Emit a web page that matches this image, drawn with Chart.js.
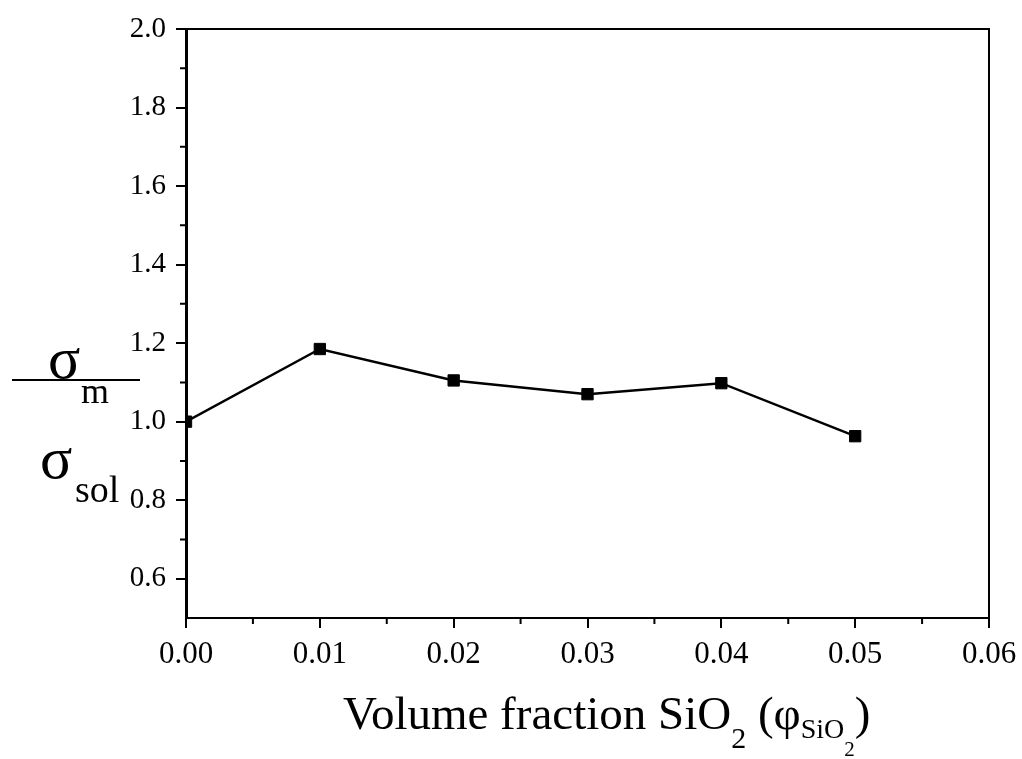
<!DOCTYPE html>
<html>
<head>
<meta charset="utf-8">
<script src="https://cdn.jsdelivr.net/npm/chart.js@4"></script>
<style>
  body { margin: 0; background: #fff; }
  #wrap { width: 1022px; height: 759px; }
</style>
</head>
<body>
<div id="wrap"><canvas id="chart" width="1022" height="759"></canvas></div>
<script>
// data
const volumeFractions = [0.00, 0.01, 0.02, 0.03, 0.04, 0.05];
const sigmaRatio = [1.000, 1.185, 1.105, 1.070, 1.098, 0.963];

const xTicks = [0.00, 0.01, 0.02, 0.03, 0.04, 0.05, 0.06];
const yTicks = [0.6, 0.8, 1.0, 1.2, 1.4, 1.6, 1.8, 2.0];
const xMinorTicks = [0.005, 0.015, 0.025, 0.035, 0.045, 0.055];
const yMinorTicks = [0.7, 0.9, 1.1, 1.3, 1.5, 1.7, 1.9];

const SERIF = '"Liberation Serif", "Times New Roman", serif';

// draws a run of text pieces one after another: [text, size, baselineShift]
function drawRuns(ctx, x, y, runs) {
    runs.forEach(r => {
        ctx.font = r[1] + 'px ' + SERIF;
        ctx.fillText(r[0], x, y + (r[2] || 0));
        x += ctx.measureText(r[0]).width + (r[3] || 0);
    });
}

// frame, minor ticks and the two axis titles
const decorations = {
    id: 'decorations',
    afterDraw(chart) {
        const ctx = chart.ctx;
        const area = chart.chartArea;
        const xs = chart.scales.x, ys = chart.scales.y;
        ctx.save();
        ctx.strokeStyle = '#000';
        ctx.fillStyle = '#000';

        // top and right edges of the box
        ctx.lineWidth = 2;
        ctx.beginPath();
        ctx.moveTo(area.left, area.top);
        ctx.lineTo(area.right, area.top);
        ctx.lineTo(area.right, area.bottom);
        ctx.stroke();

        // minor ticks
        ctx.beginPath();
        xMinorTicks.forEach(v => {
            const px = xs.getPixelForValue(v);
            ctx.moveTo(px, area.bottom);
            ctx.lineTo(px, area.bottom + 6);
        });
        yMinorTicks.forEach(v => {
            const py = ys.getPixelForValue(v);
            ctx.moveTo(area.left, py);
            ctx.lineTo(area.left - 6, py);
        });
        ctx.stroke();

        // y title: sigma_m over sigma_sol
        ctx.textBaseline = 'alphabetic';
        ctx.textAlign = 'left';
        ctx.beginPath();
        ctx.moveTo(12, 380);
        ctx.lineTo(140, 380);
        ctx.stroke();
        ctx.font = '60px ' + SERIF;
        ctx.fillText('\u03C3', 48, 378);
        ctx.font = '36px ' + SERIF;
        ctx.fillText('m', 81, 403);
        ctx.font = '60px ' + SERIF;
        ctx.fillText('\u03C3', 40, 478);
        ctx.font = '38px ' + SERIF;
        ctx.fillText('sol', 75, 502);

        // x title
        drawRuns(ctx, 343, 729, [
            ['Volume fraction SiO', 47, 0],
            ['2', 30, 19, 0],
            [' (\u03C6', 47, 0],
            ['SiO', 28, 9],
            ['2', 21, 27],
            [')', 47, 0]
        ]);
        ctx.restore();
    }
};

new Chart(document.getElementById('chart'), {
    type: 'line',
    data: {
        datasets: [{
            data: volumeFractions.map((x, i) => ({ x: x, y: sigmaRatio[i] })),
            borderColor: '#000',
            backgroundColor: '#000',
            borderWidth: 2.5,
            pointStyle: 'rect',
            pointRadius: 8,
            pointBorderWidth: 1,
            tension: 0,
            fill: false
        }]
    },
    options: {
        responsive: false,
        animation: false,
        events: [],
        layout: { padding: { top: 29, right: 33, left: 0, bottom: 0 } },
        plugins: {
            legend: { display: false },
            tooltip: { enabled: false }
        },
        scales: {
            x: {
                type: 'linear',
                min: 0,
                max: 0.06,
                afterBuildTicks: s => { s.ticks = xTicks.map(v => ({ value: v })); },
                afterFit: s => { s.height = 141; s.paddingLeft = 0; s.paddingRight = 0; },
                grid: { drawOnChartArea: false, drawTicks: true, tickLength: 10, color: '#000', lineWidth: 2 },
                border: { display: true, color: '#000', width: 2 },
                ticks: {
                    color: '#000',
                    padding: 8,
                    maxRotation: 0,
                    font: { family: SERIF, size: 31 },
                    callback: v => v.toFixed(2)
                }
            },
            y: {
                type: 'linear',
                min: 0.5,
                max: 2.0,
                afterBuildTicks: s => { s.ticks = yTicks.map(v => ({ value: v })); },
                afterFit: s => { s.width = 186; s.paddingTop = 0; s.paddingBottom = 0; },
                grid: { drawOnChartArea: false, drawTicks: true, tickLength: 10, color: '#000', lineWidth: 2 },
                border: { display: true, color: '#000', width: 3 },
                ticks: {
                    color: '#000',
                    padding: 10,
                    font: { family: SERIF, size: 29 },
                    callback: v => v.toFixed(1)
                }
            }
        }
    },
    plugins: [decorations]
});
</script>
</body>
</html>
